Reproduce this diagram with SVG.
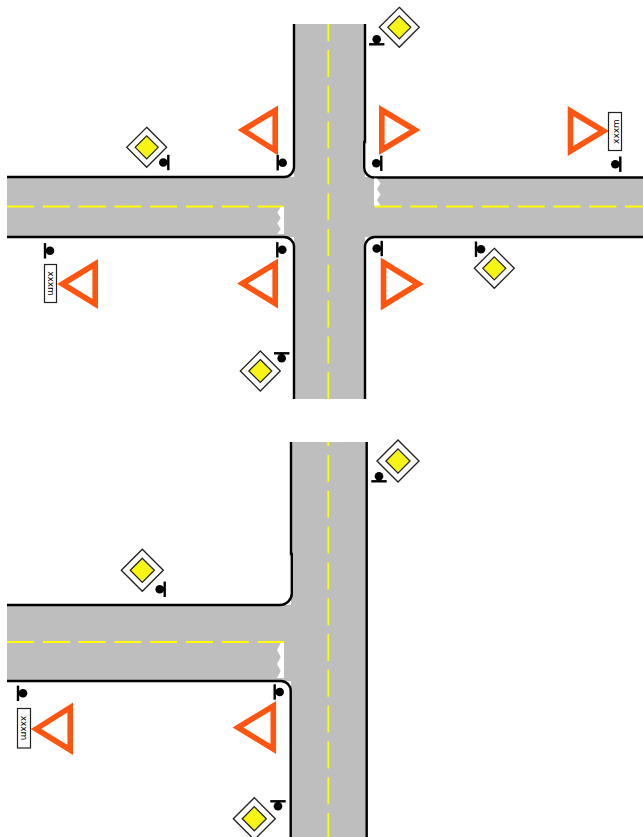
<svg xmlns="http://www.w3.org/2000/svg" width="643" height="837" viewBox="0 0 643 837">
<style>
.road{fill:#bebebe}
.edge{fill:none;stroke:#000;stroke-width:2.4}
.cl{fill:none;stroke:#ffff00;stroke-width:1.8;stroke-dasharray:27 8.8}
.zig{fill:#fff}
.tri{fill:none;stroke:#ff5511;stroke-width:5.6;stroke-linejoin:miter}
.do{fill:#fff;stroke:#222;stroke-width:1.3}
.di{fill:#f7f514;stroke:#222;stroke-width:1.2}
.plate{fill:#fff;stroke:#222;stroke-width:1.2}
.pt{font-family:"DejaVu Sans",Verdana,sans-serif;font-size:9px;fill:#000;text-anchor:middle}
</style>
<defs>
<g id="diamond"><path class="do" d="M0-20 20 0 0 20-20 0Z"/><path class="di" d="M0-11.500 11.500 0 0 11.500-11.500 0Z"/></g>
<g id="post"><circle cx="5" cy="0" r="4.300"/><rect x="-1.200" y="-7.700" width="2.400" height="15.400"/><rect x="0" y="-2" width="3" height="4"/></g>
</defs>
<g id="roads">
<path class="road" d="M294 24H365V177H643V237H365V399H294V237H7V177H294Z"/>
<path class="road" d="M291 442H367V837H291V681H7V605H291Z"/>
</g>
<g id="connectors">
<path class="edge" d="M294 24V167A10 10 0 0 1 284 177H7"/>
<path class="edge" d="M365 24V142H364.200V167A10 10 0 0 0 374.200 177.500H643"/>
<path class="edge" d="M7 237H284A10 10 0 0 1 294 247V399"/>
<path class="edge" d="M643 237H375A10 10 0 0 0 365 247V399"/>
<path class="edge" d="M291 442V554H291.800V592A12 12 0 0 1 279.800 605H7"/>
<path class="edge" d="M7 681H280.700A10 10 0 0 1 290.700 691V837"/>
<path class="edge" d="M366.700 442V837"/>
<path class="cl" stroke-dashoffset="9.800" d="M328.300 24V399"/>
<path class="cl" d="M7 206.500H283.500"/>
<path class="cl" d="M374.500 206.500H643"/>
<path class="cl" stroke-dashoffset="22.800" d="M328.300 442V837"/>
<path class="cl" d="M7 642H284"/>
<path class="zig" d="M284 207V234H277.300L280.700 229 277.300 223.500 280.700 218 277.300 212.500 280.700 207Z"/>
<path class="zig" d="M374 178.500V205.500H380.500L377 200 380.500 194.500 377 189 380.500 183.500 377 178.500Z"/>
<path class="zig" d="M284 643V678H277L280.700 671 277 664 280.700 657 277 650 280.700 643Z"/>
</g>
<g id="yield-1"><path class="tri" d="M243 130 275.200 110.500V150.500Z"/></g>
<g id="yield-2"><path class="tri" d="M415 130 381.800 110V150Z"/></g>
<g id="yield-3"><path class="tri" d="M603.500 131 570.500 111V151Z"/></g>
<g id="yield-4"><path class="tri" d="M62.500 284 95.200 264V304Z"/></g>
<g id="yield-5"><path class="tri" d="M242.500 283.500 275.200 263.500V303.500Z"/></g>
<g id="yield-6"><path class="tri" d="M418.300 284 383.500 262.500V305.500Z"/></g>
<g id="yield-7"><path class="tri" d="M36 729 70.200 707.500V750Z"/></g>
<g id="yield-8"><path class="tri" d="M238 727.500 273.300 706V749Z"/></g>
<g id="priority-1"><use href="#diamond" x="399.300" y="27.300"/></g>
<g id="priority-2"><use href="#diamond" x="146.700" y="147.300"/></g>
<g id="priority-3"><use href="#diamond" x="494.300" y="268.300"/></g>
<g id="priority-4"><use href="#diamond" x="260.300" y="371"/></g>
<g id="priority-5"><use href="#diamond" transform="translate(398 461) scale(1.05)"/></g>
<g id="priority-6"><use href="#diamond" transform="translate(142.300 570.300) scale(1.05)"/></g>
<g id="priority-7"><use href="#diamond" transform="translate(254.300 818.700) scale(1.05)"/></g>
<g id="post-1"><use href="#post" transform="translate(376.700 44.300) rotate(-90)"/></g>
<g id="post-2"><use href="#post" transform="translate(277.700 162.700)"/></g>
<g id="post-3"><use href="#post" transform="translate(381.300 163.300) scale(-1 1)"/></g>
<g id="post-4"><use href="#post" transform="translate(277.300 249.800)"/></g>
<g id="post-5"><use href="#post" transform="translate(381.700 248.500) scale(-1 1)"/></g>
<g id="post-6"><use href="#post" transform="translate(281.700 353.300) rotate(90)"/></g>
<g id="post-7"><use href="#post" transform="translate(168.300 162.500) scale(-1 1)"/></g>
<g id="post-8"><use href="#post" transform="translate(45 250.800)"/></g>
<g id="post-9"><use href="#post" transform="translate(620.300 164.200) scale(-1 1)"/></g>
<g id="post-10"><use href="#post" transform="translate(476 249.200)"/></g>
<g id="post-11"><use href="#post" transform="translate(379 481.300) rotate(-90)"/></g>
<g id="post-12"><use href="#post" transform="translate(164.700 589.300) scale(-1 1)"/></g>
<g id="post-13"><use href="#post" transform="translate(18 693.300)"/></g>
<g id="post-14"><use href="#post" transform="translate(274.700 692)"/></g>
<g id="post-15"><use href="#post" transform="translate(278 801.300) rotate(90)"/></g>
<g id="plate-1"><rect class="plate" x="44.500" y="264.500" width="12" height="38"/><text class="pt" transform="translate(47.500 283.500) rotate(90)">xxxm</text></g>
<g id="plate-2"><rect class="plate" x="608.500" y="112.500" width="13" height="38"/><text class="pt" transform="translate(618.500 131.500) rotate(-90)">xxxm</text></g>
<g id="plate-3"><rect class="plate" x="17.500" y="708.500" width="13" height="39.500"/><text class="pt" transform="translate(20.500 728) rotate(90)">xxxm</text></g>
</svg>
